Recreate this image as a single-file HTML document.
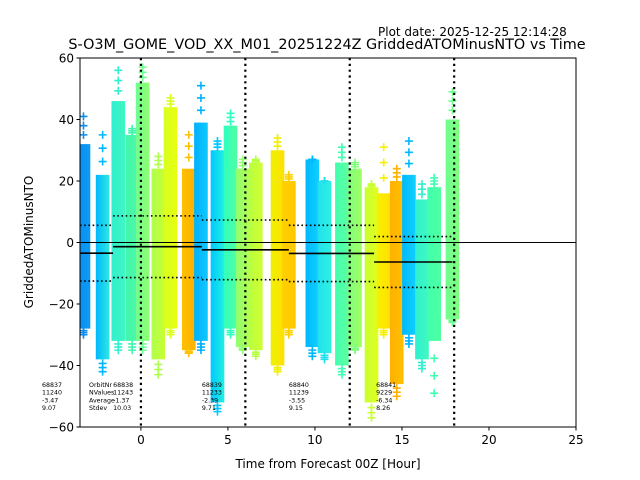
<!DOCTYPE html>
<html><head><meta charset="utf-8"><style>
body{margin:0;background:#fff}
svg{display:block;font-family:"DejaVu Sans","Liberation Sans",sans-serif}
</style></head><body>
<svg id="chart" width="640" height="480" viewBox="0 0 640 480" xmlns="http://www.w3.org/2000/svg">
<text x="378" y="36" font-size="12">Plot date: 2025-12-25 12:14:28</text>
<text x="327" y="49" font-size="14.4" text-anchor="middle">S-O3M_GOME_VOD_XX_M01_20251224Z GriddedATOMinusNTO vs Time</text>
<defs id="defs"><clipPath id="clip"><rect x="80" y="58" width="496" height="369"/></clipPath></defs>
<g id="cols" clip-path="url(#clip)"></g>
<g id="lines" clip-path="url(#clip)"></g>
<g id="ann"></g>
<rect x="80" y="58" width="496" height="369" fill="none" stroke="#000" stroke-width="1"/>
<g id="axes"></g>
<text x="328" y="468" font-size="12" text-anchor="middle">Time from Forecast 00Z [Hour]</text>
<text transform="translate(33,242) rotate(-90)" font-size="12" text-anchor="middle">GriddedATOMinusNTO</text>
</svg>
<script>
// column data: center hour, top value, bottom value, top outlier, bottom outlier, colors
const colX = [-3.3,-2.2,-1.3,-0.5,0.1,1.0,1.7,2.75,3.45,4.4,5.15,5.85,6.6,7.85,8.5,9.85,10.55,11.55,12.3,13.25,13.95,14.7,15.4,16.15,16.85,17.9];
const colTop = [32,22,46,35,52,24,44,24,39,30,38,24,26,30,20,27,20,26,24,18,16,20,22,14,18,40];
const colBot = [-28,-38,-32,-32,-32,-38,-28,-35,-32,-52,-28,-34,-35,-40,-28,-34,-36,-40,-34,-52,-28,-46,-30,-38,-32,-25];
const colHi = [41,35,56,37,57,28,47,35,51,33,42,27,27,34,22,27,20,31,26,19,31,24,33,19,21,49];
const colLo = [-30,-42,-35,-35,-35,-43,-30,-36,-35,-55,-30,-35,-37,-42,-30,-37,-38,-43,-35,-57,-30,-50,-33,-41,-49,-26];
const colC1 = ["#0a8cf0","#00b8ff","#30f0d0","#40f5b0","#70ff90","#b0ff50","#d8ff20","#ffc000","#00b0ff","#00c8ff","#30ffc0","#90ff70","#b8ff40","#f0f000","#ffd000","#00b8ff","#20e0f0","#40ffb0","#80ff80","#c8ff30","#f8f000","#ffb000","#00b8ff","#30f0d0","#40ffb0","#70ff90"];
const colC2 = ["#0a9cf5","#30e8e0","#40f5c0","#50f8a0","#90ff70","#c8ff30","#e8ff10","#ffb000","#10c8ff","#20f0e0","#50ffa0","#b0ff50","#d0ff30","#ffe000","#ffc800","#10d0ff","#30f0e0","#60ffa0","#a0ff60","#e0ff20","#ffe000","#ffc000","#10d0ff","#40f8c0","#50ffa0","#80ff80"];
// orbit stats
const orbitStart = [-3.5,-1.6,3.5,8.5,13.4];
const orbitEnd = [-1.6,3.5,8.5,13.4,17.9];
const orbitNr = ["68837","68838","68839","68840","68841"];
const orbitN = ["11240","11243","11233","11239","9229"];
const orbitAvg = [-3.47,-1.37,-2.39,-3.55,-6.34];
const orbitStd = [9.07,10.03,9.71,9.15,8.26];
const xTicks = [0,5,10,15,20,25];
const yTicks = [-60,-40,-20,0,20,40,60];
const vLines = [0,6,12,18];

const NS="http://www.w3.org/2000/svg";
const X0=80,X1=576,Y0=58,Y1=427,XMIN=-3.5,XMAX=25,YMIN=-60,YMAX=60;
const sx=v=>X0+(v-XMIN)/(XMAX-XMIN)*(X1-X0);
const sy=v=>Y1-(v-YMIN)/(YMAX-YMIN)*(Y1-Y0);
function mk(tag,attrs,parent){const e=document.createElementNS(NS,tag);for(const k in attrs)e.setAttribute(k,attrs[k]);parent.appendChild(e);return e;}
const cols=document.getElementById('cols'),lines=document.getElementById('lines'),ann=document.getElementById('ann'),axes=document.getElementById('axes'),defs=document.getElementById('defs');
const hw=6.5/17.4*1.05;
colX.forEach((x,i)=>{
  const g=mk('linearGradient',{id:'g'+i},defs);
  mk('stop',{offset:'0','stop-color':colC1[i]},g);mk('stop',{offset:'1','stop-color':colC2[i]},g);
  const r=mk('rect',{x:sx(x-hw),y:sy(colTop[i]),width:sx(x+hw)-sx(x-hw),height:sy(colBot[i])-sy(colTop[i]),fill:'url(#g'+i+')'},cols);
  
  
  const cx=sx(x);
  [[colTop[i],colHi[i]],[colBot[i],colLo[i]]].forEach(([a,b])=>{
    const n=3;
    for(let k=1;k<=n;k++){const v=a+(b-a)*k/n;const yy=sy(v);
      const p=mk('path',{d:`M${cx-4},${yy}H${cx+4}M${cx},${yy-4}V${yy+4}`,stroke:colC1[i],'stroke-width':1.6,fill:'none'},cols);
      
      }
  });
});
const z=mk('line',{x1:X0,x2:X1,y1:sy(0),y2:sy(0),stroke:'#000','stroke-width':1},lines);


orbitStart.forEach((s,i)=>{
  const e=orbitEnd[i];
  const a=mk('line',{x1:sx(s),x2:sx(e),y1:sy(orbitAvg[i]),y2:sy(orbitAvg[i]),stroke:'#000','stroke-width':1.6},lines);
  
  
  [orbitAvg[i]+orbitStd[i],orbitAvg[i]-orbitStd[i]].forEach(v=>{
    const d=mk('line',{x1:sx(s),x2:sx(e),y1:sy(v),y2:sy(v),stroke:'#000','stroke-width':1.6,'stroke-dasharray':'1.6,2.6'},lines);
    
    
  });
  const tx=i===0?42:sx(s)+(i===4?2:0);
  [orbitNr[i],orbitN[i],orbitAvg[i].toFixed(2),orbitStd[i].toFixed(2)].forEach((t,k)=>{
    const tt=mk('text',{x:tx,y:387+k*7.7,'font-size':6.3},ann);tt.textContent=t;
    
    
  });
});
["OrbitNr","NValues","Average","Stdev"].forEach((t,k)=>{
  const tt=mk('text',{x:89,y:387+k*7.7,'font-size':6.3},ann);tt.textContent=t;
  
  
});
vLines.forEach(v=>{
  const l=mk('line',{x1:sx(v),x2:sx(v),y1:Y0,y2:Y1,stroke:'#000','stroke-width':2.2,'stroke-dasharray':'2.2,3.6'},lines);
  
  
});
xTicks.forEach(v=>{
  const x=sx(v);
  const t=mk('line',{x1:x,x2:x,y1:Y1,y2:Y1+3.5,stroke:'#000'},axes);
  
  
  const l=mk('text',{x:x,y:Y1+17,'font-size':12,'text-anchor':'middle'},axes);l.textContent=v;
  
  
});
yTicks.forEach(v=>{
  const y=sy(v);
  const t=mk('line',{x1:X0-3.5,x2:X0,y1:y,y2:y,stroke:'#000'},axes);
  
  
  const l=mk('text',{x:X0-6,y:y+4.3,'font-size':12,'text-anchor':'end'},axes);l.textContent=v<0?'\u2212'+(-v):v;
  
  
});
</script>
</body></html>
